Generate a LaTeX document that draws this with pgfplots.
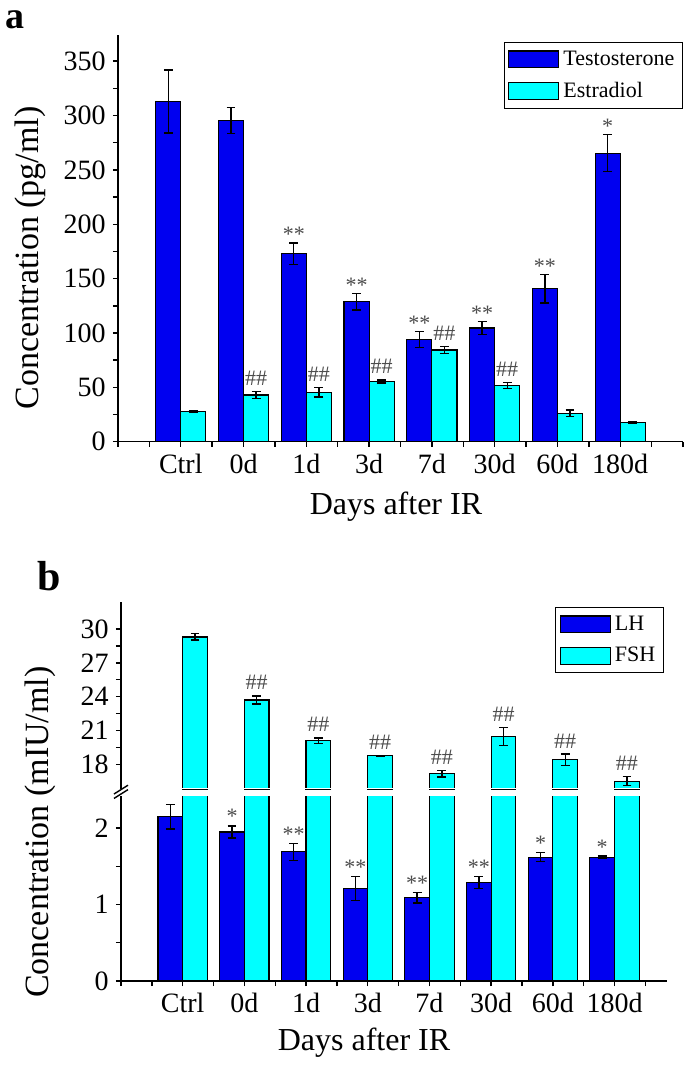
\documentclass[border=0pt]{standalone}
\usepackage{fontspec}
\setmainfont{Liberation Serif}
\usepackage{pgfplots}
\pgfplotsset{compat=1.18}
\usepackage{pgfplotstable}

\definecolor{tblue}{RGB}{0,0,240}
\definecolor{tcyan}{RGB}{0,255,255}

% panel a: testosterone / estradiol (pg/ml)
\pgfplotstableread{
x   T      Terr  E     Eerr
1   313.0  29.0  27.7  1.0
2   295.3  12.0  43.0  3.0
3   172.8  10.0  45.5  4.3
4   128.6  7.5   55.4  1.5
5   93.8   7.3   84.3  3.4
6   104.6  6.0   51.7  3.0
7   140.6  13.0  26.1  3.0
8   265.4  17.0  17.8  1.0
}\tabA

% panel b: LH / FSH (mIU/ml)
\pgfplotstableread{
x   LH     LHerr  FSH    FSHerr
1   2.15   0.16   29.30  0.28
2   1.95   0.08   23.70  0.36
3   1.69   0.11   20.10  0.24
4   1.21   0.16   18.75  0.05
5   1.09   0.07   17.15  0.30
6   1.29   0.08   20.45  0.80
7   1.62   0.06   18.40  0.50
8   1.62   0.015  16.50  0.40
}\tabB

\pgfplotsset{
  base/.style={
    scale only axis,
    axis lines*=left,
    axis line style={line width=0.7pt},
    tick align=outside,
    major tick length=2.6pt,
    minor tick length=2.6pt,
    tick style={black, line width=0.7pt},
    tick label style={font=\fontsize{14}{14}\selectfont},
    /pgf/number format/assume math mode=true,
    xtick={1,...,8},
    xticklabels={Ctrl,0d,1d,3d,7d,30d,60d,180d},
    minor xtick={0,0.5,...,9},
    xlabel style={font=\fontsize{16}{16}\selectfont, anchor=center},
    ylabel style={font=\fontsize{17}{17}\selectfont, anchor=center},
    legend style={anchor=north east, draw=black, line width=0.7pt,
      font=\fontsize{11}{11}\selectfont, inner xsep=2pt, inner ysep=2pt,
      row sep=3pt, cells={anchor=west}},
  },
  mybar/.style={ybar, bar width=0.4, bar shift=0pt, draw=black, line width=0.6pt, fill=#1,
    legend image code/.code={\draw[##1] (0pt,-4.2pt) rectangle (25pt,4.2pt);},
    error bars/y dir=both, error bars/y explicit,
    error bars/error bar style={line width=0.7pt, black},
    error bars/error mark options={rotate=90, line width=0.7pt, mark size=2.2pt, black}},
  annot/.style={forget plot, draw=none, mark=none, nodes near coords,
    point meta=explicit symbolic,
    every node near coord/.append style={inner sep=0pt, yshift=#1,
      text=black!70, font=\fontsize{11}{11}\selectfont}},
}

\begin{document}
\begin{tikzpicture}
\useasboundingbox (0,0) rectangle (342.5pt,-535pt);

% ---------------- panel a ----------------
\begin{axis}[base, name=pa, at={(59pt,-220.85pt)}, anchor=south west,
  width=282.5pt, height=203.3pt,
  xmin=0, xmax=9, ymin=0, ymax=374,
  ytick={0,50,...,350}, minor y tick num=1,
  xlabel={Days after IR}, ylabel={Concentration (pg/ml)},
  xlabel style={at={(axis description cs:0.492,-0.1606)}},
  ylabel style={at={(axis description cs:-0.1558,0.452)}},
  legend style={at={(1,0.983)}},
]
\addplot[mybar=tblue] table[x expr=\thisrow{x}-0.2, y=T, y error=Terr]{\tabA};
\addplot[mybar=tcyan] table[x expr=\thisrow{x}+0.2, y=E, y error=Eerr]{\tabA};
\addplot[annot=0.3pt] coordinates {
  (2.8,182.8) [**] (3.8,136.1) [**] (4.8,101.1) [**]
  (5.8,110.6) [**] (6.8,153.6) [**] (7.8,282.4) [*]
};
\addplot[annot=2.8pt] coordinates {
  (2.2,46.0) [\#\#] (3.2,49.8) [\#\#] (4.2,56.9) [\#\#]
  (5.2,87.7) [\#\#] (6.2,54.7) [\#\#]
};
\legend{Testosterone, Estradiol}
\end{axis}

% ---------------- panel b, lower part ----------------
\begin{axis}[base, name=pbl, at={(60.5pt,-490.5pt)}, anchor=south west,
  width=273pt, height=92.5pt,
  xmin=0, xmax=8.85, ymin=0, ymax=2.42,
  ytick={0,1,2}, minor y tick num=1,
  xlabel={Days after IR}, ylabel={Concentration (mIU/ml)},
  xlabel style={at={(axis description cs:0.445,-0.335)}},
  ylabel style={at={(axis description cs:-0.148,0.805)}},
]
\addplot[mybar=tblue] table[x expr=\thisrow{x}-0.2, y=LH, y error=LHerr]{\tabB};
\addplot[mybar=tcyan] table[x expr=\thisrow{x}+0.2, y=FSH, y error=FSHerr]{\tabB};
\addplot[annot=0.8pt] coordinates {
  (1.8,2.03) [*] (2.8,1.80) [**] (3.8,1.37) [**] (4.8,1.16) [**]
  (5.8,1.37) [**] (6.8,1.68) [*] (7.8,1.635) [*]
};
\end{axis}

% ---------------- panel b, upper part ----------------
\begin{axis}[base, name=pbu, at={(60.5pt,-394.5pt)}, anchor=south west,
  width=273pt, height=93.5pt,
  axis x line=none,
  xmin=0, xmax=8.85, ymin=15.8, ymax=32.4,
  ytick={18,21,...,30}, minor y tick num=1,
  legend style={at={(0.9945,0.973)}},
]
\addlegendimage{mybar=tblue}
\addplot[mybar=tcyan] table[x expr=\thisrow{x}+0.2, y=FSH, y error=FSHerr]{\tabB};
\addplot[annot=2.8pt] coordinates {
  (2.2,24.06) [\#\#] (3.2,20.34) [\#\#] (4.2,18.8) [\#\#] (5.2,17.45) [\#\#]
  (6.2,21.25) [\#\#] (7.2,18.9) [\#\#] (8.2,16.9) [\#\#]
};
\legend{LH, FSH}
\end{axis}

% hide the bar outline at the cut edge of the upper part
\fill[white] ([xshift=0.6pt,yshift=-0.2pt]pbu.south west) rectangle ([yshift=0.5pt]pbu.south east);

% axis break marks
\draw[line width=0.7pt] ([shift={(-3.5pt,-1.2pt)}]pbl.north west) -- ([shift={(3.5pt,3.2pt)}]pbl.north west);
\draw[line width=0.7pt] ([shift={(-3.5pt,1.0pt)}]pbl.north west) -- ([shift={(3.5pt,5.4pt)}]pbl.north west);

% panel letters
\node[anchor=base west, inner sep=0pt, font=\bfseries\fontsize{19}{19}\selectfont] at (2.5pt,-14.5pt) {a};
\node[anchor=base west, inner sep=0pt, font=\bfseries\fontsize{21}{21}\selectfont] at (18.5pt,-295pt) {b};
\end{tikzpicture}
\end{document}
